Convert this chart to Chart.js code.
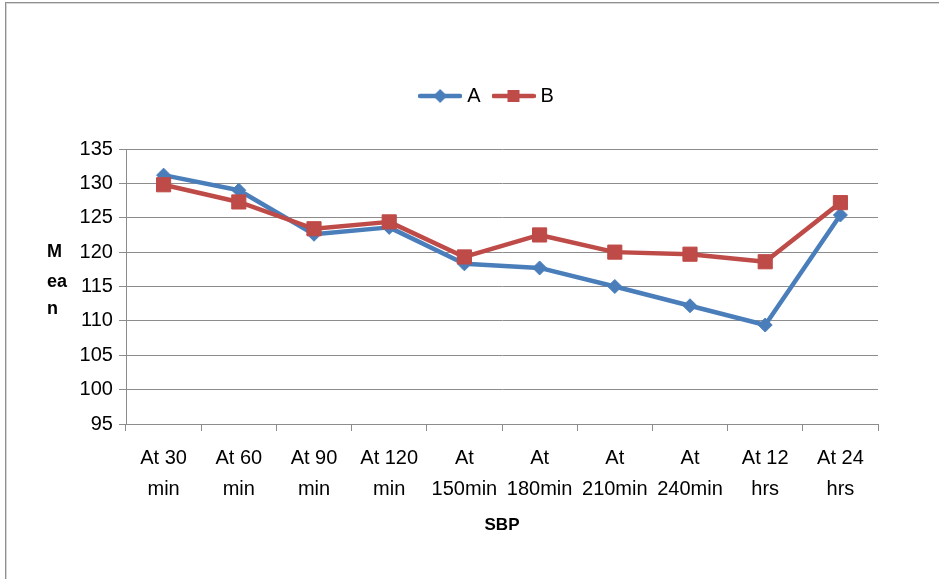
<!DOCTYPE html>
<html>
<head>
<meta charset="utf-8">
<script src="https://cdn.jsdelivr.net/npm/chart.js@4/dist/chart.umd.min.js"></script>
<style>
html, body { margin: 0; padding: 0; background: #fff; }
#wrap { position: relative; width: 939px; height: 579px; overflow: hidden; }
canvas { position: absolute; left: 0; top: 0; }
#frame {
  position: absolute; left: 5px; top: 2px; right: -2px; bottom: -2px;
  border-top: 1px solid #8f8f8f; border-left: 1px solid #8f8f8f;
  box-shadow: inset 1px 1px 0 #d6d6d6; pointer-events: none;
}
</style>
</head>
<body>
<div id="wrap">
  <canvas id="chart" width="939" height="579"></canvas>
  <div id="frame"></div>
</div>
<script>
// Time points (two-line labels)
const categories = [
  ['At 30', 'min'], ['At 60', 'min'], ['At 90', 'min'], ['At 120', 'min'],
  ['At', '150min'], ['At', '180min'], ['At', '210min'], ['At', '240min'],
  ['At 12', 'hrs'], ['At 24', 'hrs']
];
// Mean SBP per group
const seriesA = [131.2, 129.0, 122.6, 123.6, 118.3, 117.7, 115.0, 112.2, 109.4, 125.4];
const seriesB = [129.8, 127.3, 123.4, 124.4, 119.3, 122.5, 120.0, 119.7, 118.6, 127.2];
const seriesNames = ['A', 'B'];
const yTickMin = 95;
const yTickMax = 135;
const yTickStep = 5;
const xTitle = 'SBP';
const yTitleLines = ['M', 'ea', 'n'];

const FONT = '"Liberation Sans", Arial, sans-serif';
const BLUE = '#4A7EBB';
const RED = '#BE4B48';
const GRID = '#8c8c8c';

// Small line-with-marker swatches for the legend
function legendIcon(color, shape) {
  const c = document.createElement('canvas');
  c.width = 44; c.height = 18;
  const g = c.getContext('2d');
  g.strokeStyle = color;
  g.lineWidth = 4.5;
  g.lineCap = 'round';
  g.beginPath(); g.moveTo(2, 9); g.lineTo(42, 9); g.stroke();
  g.fillStyle = color;
  g.beginPath();
  if (shape === 'diamond') {
    g.moveTo(22, 2); g.lineTo(29, 9); g.lineTo(22, 16); g.lineTo(15, 9);
  } else {
    g.rect(16, 3, 12, 12);
  }
  g.closePath(); g.fill();
  return c;
}
const legendIcons = [legendIcon(BLUE, 'diamond'), legendIcon(RED, 'square')];

// Horizontal stacked y-axis title
const yTitlePlugin = {
  id: 'yTitleStack',
  afterDraw(chart) {
    const { ctx, chartArea } = chart;
    const mid = (chartArea.top + chartArea.bottom) / 2;
    const offsets = [-29.5, 0.5, 27.5];
    ctx.save();
    ctx.font = 'bold 18px ' + FONT;
    ctx.fillStyle = '#000';
    ctx.textAlign = 'left';
    ctx.textBaseline = 'alphabetic';
    yTitleLines.forEach((t, i) => ctx.fillText(t, 47, mid + offsets[i]));
    ctx.restore();
  }
};

// Extra space between the legend and the plot
const legendGapPlugin = {
  id: 'legendGap',
  afterInit(chart) {
    const legend = chart.legend;
    if (!legend) return;
    const fit = legend.fit.bind(legend);
    legend.fit = function () { fit(); this.height += 33; };
  }
};

new Chart(document.getElementById('chart'), {
  type: 'line',
  data: {
    labels: categories,
    datasets: [
      {
        label: seriesNames[0], data: seriesA, order: 1,
        borderColor: BLUE, backgroundColor: BLUE, borderWidth: 4.5,
        borderCapStyle: 'round', borderJoinStyle: 'round',
        pointStyle: 'rectRot', pointRadius: 7, pointBorderWidth: 1,
        pointBackgroundColor: BLUE, pointBorderColor: BLUE, tension: 0
      },
      {
        label: seriesNames[1], data: seriesB, order: 0,
        borderColor: RED, backgroundColor: RED, borderWidth: 4.5,
        borderCapStyle: 'round', borderJoinStyle: 'round',
        pointStyle: 'rect', pointRadius: 10, pointBorderWidth: 1,
        pointBackgroundColor: RED, pointBorderColor: RED, tension: 0
      }
    ]
  },
  options: {
    responsive: false,
    animation: false,
    devicePixelRatio: 1,
    layout: { padding: { left: 99, right: 61, top: 70, bottom: 43 } },
    plugins: {
      tooltip: { enabled: false },
      title: { display: false },
      legend: {
        display: true,
        position: 'top',
        labels: {
          usePointStyle: true,
          pointStyleWidth: 34,
          boxHeight: 20,
          padding: 16,
          color: '#000',
          font: { family: FONT, size: 20 },
          sort: (a, b) => a.datasetIndex - b.datasetIndex,
          generateLabels(chart) {
            return Chart.defaults.plugins.legend.labels.generateLabels(chart).map(item => {
              item.pointStyle = legendIcons[item.datasetIndex];
              return item;
            });
          }
        }
      }
    },
    scales: {
      x: {
        offset: true,
        grid: { display: true, offset: true, drawOnChartArea: false, drawTicks: true, tickLength: 7, color: GRID, lineWidth: 1 },
        border: { display: true, color: GRID, width: 1 },
        ticks: {
          color: '#000', autoSkip: false, maxRotation: 0, minRotation: 0, padding: 12,
          font: { family: FONT, size: 20, lineHeight: 1.55 }
        },
        title: {
          display: true, text: xTitle, color: '#000', padding: 0,
          font: { family: FONT, size: 17, weight: 'bold', lineHeight: 1.2 }
        },
        afterFit(scale) { scale.height = 112; }
      },
      y: {
        min: yTickMin,
        max: yTickMax,
        grid: { color: GRID, lineWidth: 1, drawTicks: true, tickLength: 7 },
        border: { display: true, color: GRID, width: 1 },
        ticks: {
          // labels sit left of the axis, right-aligned 13px from it
          mirror: true, crossAlign: 'far', padding: -46.4,
          stepSize: yTickStep, color: '#000',
          font: { family: FONT, size: 20 }
        },
        afterFit(scale) { scale.width = 27; }
      }
    }
  },
  plugins: [yTitlePlugin, legendGapPlugin]
});
</script>
</body>
</html>
